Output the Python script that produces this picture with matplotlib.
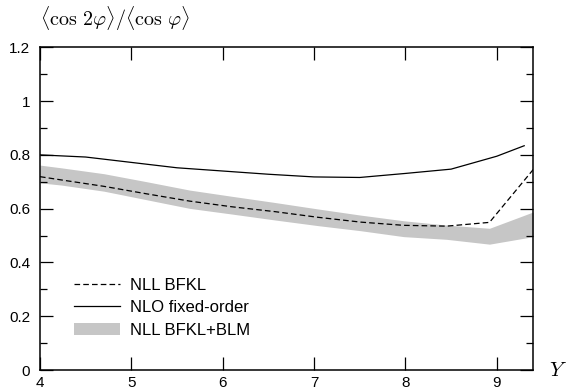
import matplotlib
matplotlib.use("Agg")
import matplotlib.pyplot as plt

plt.rcParams['font.family'] = ['Liberation Sans', 'DejaVu Sans']
plt.rcParams['mathtext.fontset'] = 'cm'

# NLO fixed-order
y_nlo = [4.0, 4.5, 5.0, 5.5, 6.0, 6.5, 7.0, 7.5, 8.0, 8.5, 9.0, 9.3]
r_nlo = [0.800, 0.792, 0.772, 0.752, 0.740, 0.728, 0.718, 0.716, 0.731, 0.747, 0.795, 0.834]

# NLL BFKL and the BLM band
y_bfkl = [4.0, 4.23, 4.70, 5.17, 5.64, 6.10, 6.57, 7.04, 7.51, 7.98, 8.45, 8.92, 9.4]
r_nll = [0.719, 0.707, 0.683, 0.655, 0.628, 0.607, 0.589, 0.568, 0.550, 0.538, 0.535, 0.549, 0.746]
blm_hi = [0.762, 0.752, 0.730, 0.700, 0.669, 0.646, 0.623, 0.599, 0.576, 0.555, 0.539, 0.527, 0.588]
blm_lo = [0.696, 0.688, 0.665, 0.633, 0.601, 0.580, 0.558, 0.537, 0.518, 0.496, 0.486, 0.468, 0.496]

xticks = [4, 5, 6, 7, 8, 9]
yticks = [0, 0.2, 0.4, 0.6, 0.8, 1.0, 1.2]
ylabels = ['0', '0.2', '0.4', '0.6', '0.8', '1', '1.2']

fig = plt.figure(figsize=(5.72, 3.92), dpi=100)
ax = fig.add_axes([0.0699, 0.0561, 0.8625, 0.8232])

ax.fill_between(y_bfkl, blm_lo, blm_hi, color='#c6c6c6', lw=0, label='NLL BFKL+BLM')
ax.plot(y_bfkl, r_nll, color='black', lw=0.9, dashes=(4.5, 2.5), label='NLL BFKL')
ax.plot(y_nlo, r_nlo, color='black', lw=0.9, label='NLO fixed-order')

ax.set_xlim(4, 9.4)
ax.set_ylim(0, 1.2)
ax.set_xticks(xticks)
ax.set_yticks(yticks)
ax.set_yticklabels(ylabels)
ax.set_yticks([0.1, 0.3, 0.5, 0.7, 0.9, 1.1], minor=True)
ax.tick_params(which='both', direction='in', top=True, right=True, width=0.9, labelsize=11)
ax.tick_params(which='major', length=9.4)
ax.tick_params(which='minor', length=4.8)
ax.tick_params(axis='x', pad=4)
ax.tick_params(axis='y', pad=7)
for s in ax.spines.values():
    s.set_linewidth(1.1)

h, l = ax.get_legend_handles_labels()
order = [1, 2, 0]
ax.legend([h[i] for i in order], [l[i] for i in order], loc='lower left',
          bbox_to_anchor=(0.069, 0.1), frameon=False, fontsize=12,
          handlelength=2.75, handletextpad=0.6, labelspacing=0.45,
          borderpad=0, borderaxespad=0)

fig.text(0.07, 0.953, r'$\langle\cos\,2\varphi\rangle/\langle\cos\,\varphi\rangle$',
         fontsize=14.5, va='center', ha='left')
fig.text(0.975, 0.056, r'$Y$', fontsize=15, va='center', ha='center')

fig.savefig('out.png', dpi=100)
